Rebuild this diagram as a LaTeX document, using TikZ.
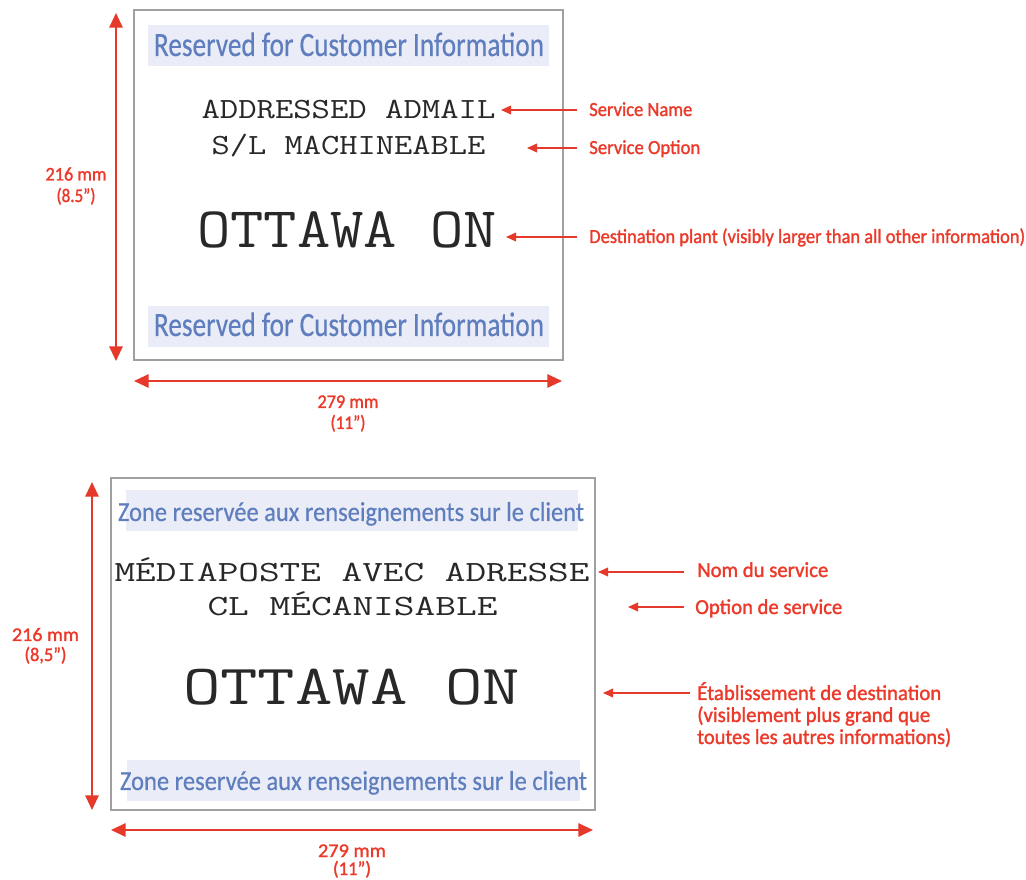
\documentclass[tikz,border=0pt]{standalone}
\usepackage{fontspec}
\setmainfont{Carlito}
\newfontfamily\lblf[FakeBold=1.4]{Carlito}
\newfontfamily\bluef[FakeBold=0.5]{Carlito}
\usetikzlibrary{arrows.meta}
\definecolor{ared}{RGB}{229,57,43}
\definecolor{tred}{RGB}{236,58,42}
\definecolor{tblue}{RGB}{94,126,190}
\definecolor{bandc}{RGB}{234,236,247}
\definecolor{framec}{RGB}{160,160,160}
\definecolor{ink}{RGB}{40,40,40}
\newlength\fitw
\newcommand\hfit[2]{\settowidth\fitw{#2}\pgfmathsetmacro\fitsx{(#1)*0.75/\fitw}\scalebox{\fitsx}[1]{#2}}
\tikzset{
  dimarrow/.style={draw=ared, line width=1.5pt, {Triangle[length=11pt,width=10pt]}-{Triangle[length=11pt,width=10pt]}},
  ptrarrow/.style={draw=ared, line width=1.1pt, -{Triangle[length=7.5pt,width=6.5pt]}},
  framebox/.style={draw=framec, line width=1.1pt},
  band/.style={fill=bandc, draw=none},
  bluetxt/.style={text=tblue, inner sep=0pt, anchor=base},
  monotxt/.style={text=ink, inner sep=0pt, anchor=base},
  redlbl/.style={text=tred, inner sep=0pt, anchor=base west},
  dimlbl/.style={text=tred, inner sep=0pt, anchor=base, font=\lblf\fontsize{14.5}{16}\selectfont},
}
\begin{document}
\begin{tikzpicture}[x=0.75pt,y=-0.75pt]
\useasboundingbox (0,0) rectangle (1026,880);
\fill[white] (0,0) rectangle (1026,880);

% ---------------- top (English) ----------------
\coordinate (f1nw) at (134,10);
\coordinate (f1se) at (563,360);
\draw[framebox] (f1nw) rectangle (f1se);
\fill[band] (148,25) rectangle (549,66);
\fill[band] (148,306) rectangle (549,347);
\node[bluetxt, font=\bluef\fontsize{25.5}{28}\selectfont] (b1) at (349,56) {\hfit{390}{Reserved for Customer Information}};
\node[bluetxt, font=\bluef\fontsize{25.5}{28}\selectfont] (b2) at (349,336) {\hfit{390}{Reserved for Customer Information}};
\node[monotxt, font=\ttfamily\fontsize{22}{26}\selectfont] (sn1) at (348.5,119) {\hfit{294}{ADDRESSED ADMAIL}};
\node[monotxt, font=\ttfamily\fontsize{22}{26}\selectfont] (so1) at (348.5,155) {\hfit{274}{S/L MACHINEABLE}};
\node[monotxt, font=\ttfamily\fontsize{43}{50}\selectfont] (dp1) at (347,248) {\hfit{300}{OTTAWA ON}};

\coordinate (v1a) at (116,13);
\coordinate (v1b) at (116,361);
\draw[dimarrow] (v1a) -- (v1b);
\node[dimlbl] (h1) at (76,180.5) {\hfit{61}{216 mm}};
\node[dimlbl] (h1i) at (76,202) {\hfit{39}{(8.5”)}};
\coordinate (w1a) at (134,381);
\coordinate (w1b) at (562,381);
\draw[dimarrow] (w1a) -- (w1b);
\node[dimlbl] (wd1) at (348,408) {\hfit{61}{279 mm}};
\node[dimlbl] (wd1i) at (348,429) {\hfit{35}{(11”)}};

\coordinate (p1t) at (577,110);
\coordinate (p1h) at (501,110);
\coordinate (p2t) at (577,148);
\coordinate (p2h) at (527,148);
\coordinate (p3t) at (577,237);
\coordinate (p3h) at (506,237);
\draw[ptrarrow] (p1t) -- (p1h);
\draw[ptrarrow] (p2t) -- (p2h);
\draw[ptrarrow] (p3t) -- (p3h);
\node[redlbl, font=\lblf\fontsize{15}{17}\selectfont] (l1) at (589,116) {\hfit{103}{Service Name}};
\node[redlbl, font=\lblf\fontsize{15}{17}\selectfont] (l2) at (589,154) {\hfit{111}{Service Option}};
\node[redlbl, font=\lblf\fontsize{15}{17}\selectfont] (l3) at (589,243) {\hfit{436}{Destination plant (visibly larger than all other information)}};

% ---------------- bottom (French) ----------------
\coordinate (f2nw) at (111,478);
\coordinate (f2se) at (595,810);
\draw[framebox] (f2nw) rectangle (f2se);
\fill[band] (126,490) rectangle (578,531);
\fill[band] (127,760) rectangle (580,801);
\node[bluetxt, font=\bluef\fontsize{20.5}{24}\selectfont] (b3) at (351,521) {\hfit{466}{Zone reservée aux renseignements sur le client}};
\node[bluetxt, font=\bluef\fontsize{20.5}{24}\selectfont] (b4) at (353.5,790) {\hfit{467}{Zone reservée aux renseignements sur le client}};
\node[monotxt, font=\ttfamily\fontsize{22}{26}\selectfont] (sn2) at (352,582) {\hfit{475}{MÉDIAPOSTE AVEC ADRESSE}};
\node[monotxt, font=\ttfamily\fontsize{22}{26}\selectfont] (so2) at (352.5,616) {\hfit{290}{CL MÉCANISABLE}};
\node[monotxt, font=\ttfamily\fontsize{42.5}{50}\selectfont] (dp2) at (351.5,705) {\hfit{337}{OTTAWA ON}};

\coordinate (v2a) at (92,482);
\coordinate (v2b) at (92,810);
\draw[dimarrow] (v2a) -- (v2b);
\node[dimlbl] (h2) at (45.5,641) {\hfit{67}{216 mm}};
\node[dimlbl] (h2i) at (45.5,661) {\hfit{42}{(8,5”)}};
\coordinate (w2a) at (111,830);
\coordinate (w2b) at (593,830);
\draw[dimarrow] (w2a) -- (w2b);
\node[dimlbl] (wd2) at (352,857) {\hfit{68}{279 mm}};
\node[dimlbl] (wd2i) at (352,875) {\hfit{38}{(11”)}};

\coordinate (q1t) at (684,572);
\coordinate (q1h) at (598,572);
\coordinate (q2t) at (684,607);
\coordinate (q2h) at (628,607);
\coordinate (q3t) at (690,693);
\coordinate (q3h) at (603,693);
\draw[ptrarrow] (q1t) -- (q1h);
\draw[ptrarrow] (q2t) -- (q2h);
\draw[ptrarrow] (q3t) -- (q3h);
\node[redlbl, font=\lblf\fontsize{16}{18}\selectfont] (m1) at (697,577) {\hfit{131}{Nom du service}};
\node[redlbl, font=\lblf\fontsize{16}{18}\selectfont] (m2) at (695,614) {\hfit{147}{Option de service}};
\node[redlbl, align=left, font=\lblf\fontsize{16}{16.5}\selectfont] (m3) at (697,744) {\hfit{244}{Établissement de destination}\\\hfit{233}{(visiblement plus grand que}\\\hfit{254}{toutes les autres informations)}};
\end{tikzpicture}
\end{document}
